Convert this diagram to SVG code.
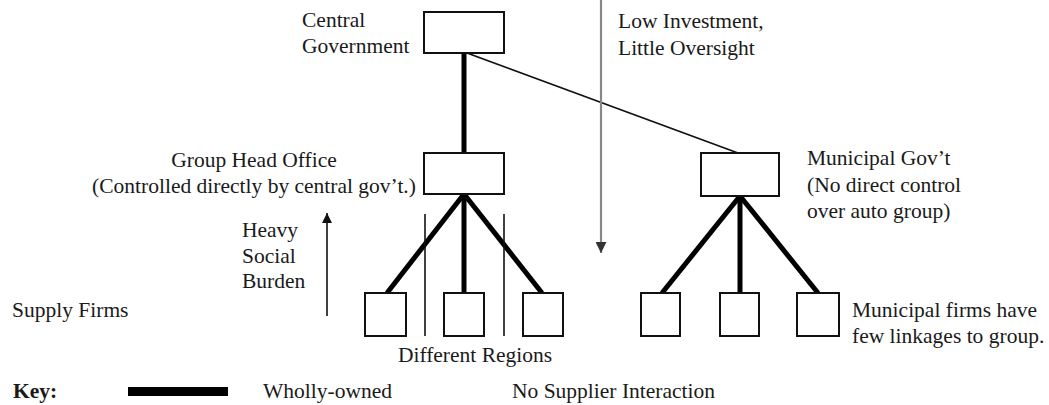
<svg xmlns="http://www.w3.org/2000/svg" width="1049" height="405" viewBox="0 0 1049 405">
<style>
  text { font-family: "Liberation Serif", "Times New Roman", serif; font-size: 21.5px; fill: #1a1a1a; }
  .box { fill: #ffffff; stroke: #111; stroke-width: 2; }
  .thick { stroke: #000; stroke-width: 5; stroke-linecap: butt; fill: none; }
  .thin { stroke: #111; stroke-width: 1.8; fill: none; }
  .sep { stroke: #111; stroke-width: 1.6; fill: none; }
</style>
<defs>
  <marker id="ahBlack" viewBox="0 0 10 10" refX="10" refY="5" markerWidth="10" markerHeight="14" markerUnits="userSpaceOnUse" orient="auto">
    <path d="M0,0 L10,5 L0,10 Z" fill="#111"/>
  </marker>
  <marker id="ahGray" viewBox="0 0 10 10" refX="10" refY="5" markerWidth="14" markerHeight="11" markerUnits="userSpaceOnUse" orient="auto">
    <path d="M0,0 L10,5 L0,10 Z" fill="#333"/>
  </marker>
</defs>
<rect width="1049" height="405" fill="#ffffff"/>

<g id="connectors">
  <line class="thick" x1="464" y1="53" x2="464" y2="153"/>
  <line class="thin" x1="467" y1="53" x2="738" y2="153"/>
  <line class="thick" x1="464" y1="194" x2="387" y2="293"/>
  <line class="thick" x1="464" y1="194" x2="464" y2="293"/>
  <line class="thick" x1="464" y1="194" x2="542" y2="293"/>
  <line class="thick" x1="740" y1="196" x2="662" y2="293"/>
  <line class="thick" x1="740" y1="196" x2="740" y2="293"/>
  <line class="thick" x1="740" y1="196" x2="818" y2="293"/>
  <line x1="601" y1="0" x2="601" y2="253" stroke="#888" stroke-width="2.2" marker-end="url(#ahGray)"/>
  <line x1="327" y1="316" x2="327" y2="213" stroke="#111" stroke-width="1.6" marker-end="url(#ahBlack)"/>
  <line class="sep" x1="425" y1="214" x2="425" y2="336"/>
  <line class="sep" x1="504" y1="214" x2="504" y2="336"/>
</g>

<g id="central-government">
  <rect class="box" x="424" y="12" width="80" height="41"/>
  <text x="302" y="27">Central</text>
  <text x="302" y="53">Government</text>
</g>

<g id="low-investment">
  <text x="618" y="28">Low Investment,</text>
  <text x="618" y="55">Little Oversight</text>
</g>

<g id="group-head-office">
  <rect class="box" x="424" y="153" width="80" height="41"/>
  <text x="254" y="167" text-anchor="middle">Group Head Office</text>
  <text x="254" y="193" text-anchor="middle">(Controlled directly by central gov’t.)</text>
</g>

<g id="municipal-gov">
  <rect class="box" x="701" y="153" width="78" height="43"/>
  <text x="807" y="165">Municipal Gov’t</text>
  <text x="807" y="192">(No direct control</text>
  <text x="807" y="218">over auto group)</text>
</g>

<g id="heavy-social-burden">
  <text x="242" y="237">Heavy</text>
  <text x="242" y="263">Social</text>
  <text x="242" y="288">Burden</text>
</g>

<g id="supply-firms-label">
  <text x="12" y="317">Supply Firms</text>
</g>

<g id="group-firm-1"><rect class="box" x="365" y="293" width="41" height="43"/></g>
<g id="group-firm-2"><rect class="box" x="444" y="293" width="40" height="43"/></g>
<g id="group-firm-3"><rect class="box" x="523" y="293" width="40" height="43"/></g>

<g id="different-regions">
  <text x="475" y="362" text-anchor="middle">Different Regions</text>
</g>

<g id="municipal-firm-1"><rect class="box" x="641" y="293" width="39" height="43"/></g>
<g id="municipal-firm-2"><rect class="box" x="720" y="293" width="39" height="43"/></g>
<g id="municipal-firm-3"><rect class="box" x="797" y="293" width="42" height="43"/></g>

<g id="municipal-firms-label">
  <text x="852" y="317">Municipal firms have</text>
  <text x="852" y="343">few linkages to group.</text>
</g>

<g id="key">
  <text x="13" y="398" font-weight="bold">Key:</text>
  <rect x="128" y="387" width="100" height="9" fill="#000"/>
  <text x="263" y="398">Wholly-owned</text>
  <text x="512" y="398">No Supplier Interaction</text>
</g>
</svg>
